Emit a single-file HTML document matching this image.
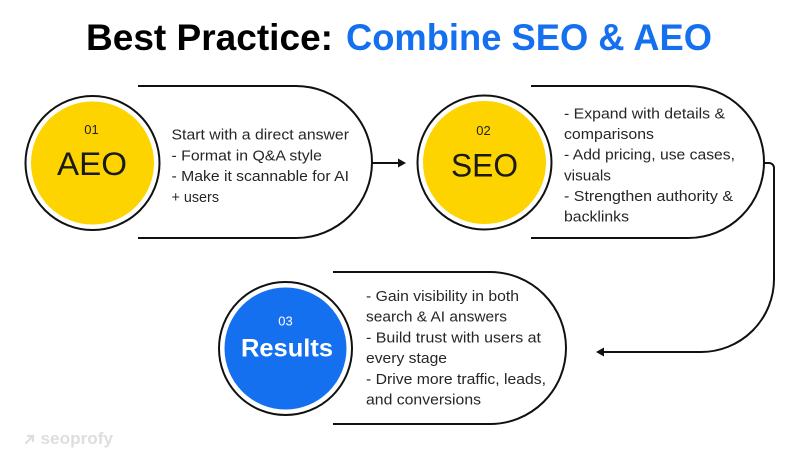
<!DOCTYPE html>
<html>
<head>
<meta charset="utf-8">
<style>
  html, body { margin: 0; padding: 0; background: #ffffff; }
  body { width: 799px; height: 470px; overflow: hidden; }
  svg { display: block; }
  .t { font-family: "Liberation Sans", sans-serif; font-size: 15px; fill: #262626; }
</style>
</head>
<body>
<svg width="799" height="470" viewBox="0 0 799 470" xmlns="http://www.w3.org/2000/svg">
  <rect x="0" y="0" width="799" height="470" fill="#ffffff"/>

  <!-- Title -->
  <text x="86" y="50" font-family="Liberation Sans, sans-serif" font-weight="bold" font-size="37.5" fill="#000" textLength="247" lengthAdjust="spacingAndGlyphs">Best Practice:</text>
  <text x="346" y="50" font-family="Liberation Sans, sans-serif" font-weight="bold" font-size="37.5" fill="#1570ef" textLength="366" lengthAdjust="spacingAndGlyphs">Combine SEO &amp; AEO</text>

  <!-- Capsules -->
  <g fill="#fff" stroke="#111" stroke-width="2">
    <path d="M138,86 H296 A76,76 0 0 1 296,238 H138"/>
    <path d="M531,86 H688 A76,76 0 0 1 688,238 H531"/>
    <path d="M333,272 H490 A76,76 0 0 1 490,424 H333"/>
  </g>

  <!-- Connectors -->
  <g fill="none" stroke="#111" stroke-width="2">
    <path d="M372,163 H400"/>
    <path d="M764,163 H769 A5,5 0 0 1 774,168 V279 A73,73 0 0 1 701,352 H602"/>
  </g>
  <polygon points="398,158.5 406,163 398,167.5" fill="#111"/>
  <polygon points="604,347.5 596,352 604,356.5" fill="#111"/>

  <!-- Circles -->
  <circle cx="92.5" cy="163" r="67" fill="#fff" stroke="#111" stroke-width="2"/>
  <circle cx="92.5" cy="163" r="61.5" fill="#fdd400"/>
  <circle cx="484.5" cy="162.5" r="67" fill="#fff" stroke="#111" stroke-width="2"/>
  <circle cx="484.5" cy="162.5" r="61.5" fill="#fdd400"/>
  <circle cx="285.5" cy="348.5" r="66.5" fill="#fff" stroke="#111" stroke-width="2"/>
  <circle cx="285.5" cy="348.5" r="61" fill="#1570ef"/>

  <!-- Circle labels -->
  <g font-family="Liberation Sans, sans-serif" text-anchor="middle">
    <text x="91.5" y="134" font-size="13" fill="#222">01</text>
    <text x="92" y="175" font-size="32.5" fill="#1a1a1a" textLength="70" lengthAdjust="spacingAndGlyphs">AEO</text>
    <text x="483.5" y="135" font-size="13" fill="#222">02</text>
    <text x="484.5" y="176.5" font-size="32.5" fill="#1a1a1a" textLength="67" lengthAdjust="spacingAndGlyphs">SEO</text>
    <text x="285.5" y="325.5" font-size="13" fill="#fff">03</text>
    <text x="287" y="356.5" font-size="24.7" font-weight="bold" fill="#fff" textLength="92" lengthAdjust="spacingAndGlyphs">Results</text>
  </g>

  <!-- Capsule 1 text -->
  <text class="t" x="171.5" y="139.5" textLength="177.5" lengthAdjust="spacingAndGlyphs">Start with a direct answer</text>
  <text class="t" x="171.5" y="160.3" textLength="150.5" lengthAdjust="spacingAndGlyphs">- Format in Q&amp;A style</text>
  <text class="t" x="171.5" y="181" textLength="177.5" lengthAdjust="spacingAndGlyphs">- Make it scannable for AI</text>
  <text class="t" x="171.5" y="201.8" textLength="47.5" lengthAdjust="spacingAndGlyphs">+ users</text>

  <!-- Capsule 2 text -->
  <text class="t" x="564" y="118.5" textLength="161" lengthAdjust="spacingAndGlyphs">- Expand with details &amp;</text>
  <text class="t" x="564" y="139" textLength="90" lengthAdjust="spacingAndGlyphs">comparisons</text>
  <text class="t" x="564" y="159.7" textLength="171" lengthAdjust="spacingAndGlyphs">- Add pricing, use cases,</text>
  <text class="t" x="564" y="180.3" textLength="47" lengthAdjust="spacingAndGlyphs">visuals</text>
  <text class="t" x="564" y="200.8" textLength="169" lengthAdjust="spacingAndGlyphs">- Strengthen authority &amp;</text>
  <text class="t" x="564" y="221.3" textLength="65" lengthAdjust="spacingAndGlyphs">backlinks</text>

  <!-- Capsule 3 text -->
  <text class="t" x="366" y="301" textLength="153" lengthAdjust="spacingAndGlyphs">- Gain visibility in both</text>
  <text class="t" x="366" y="321.7" textLength="141" lengthAdjust="spacingAndGlyphs">search &amp; AI answers</text>
  <text class="t" x="366" y="342.4" textLength="175" lengthAdjust="spacingAndGlyphs">- Build trust with users at</text>
  <text class="t" x="366" y="363" textLength="81" lengthAdjust="spacingAndGlyphs">every stage</text>
  <text class="t" x="366" y="383.8" textLength="180" lengthAdjust="spacingAndGlyphs">- Drive more traffic, leads,</text>
  <text class="t" x="366" y="404.5" textLength="115" lengthAdjust="spacingAndGlyphs">and conversions</text>

  <!-- Watermark -->
  <g stroke="#dedede" stroke-width="2.2" fill="none" stroke-linecap="round">
    <path d="M26,443 L33,436"/>
    <path d="M28,436 H33 V441"/>
  </g>
  <text x="40.5" y="444" font-family="Liberation Sans, sans-serif" font-weight="bold" font-size="17" fill="#dedede" textLength="72.5" lengthAdjust="spacingAndGlyphs">seoprofy</text>
</svg>
</body>
</html>
